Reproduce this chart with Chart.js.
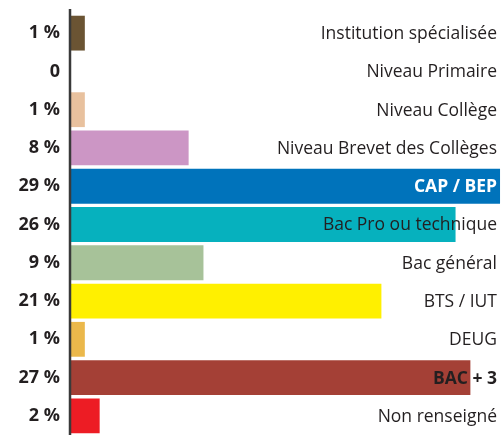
<!DOCTYPE html>
<html>
<head>
<meta charset="utf-8">
<script src="https://cdn.jsdelivr.net/npm/chart.js@4"></script>
<style>
  html, body { margin: 0; padding: 0; background: #fff; overflow: hidden; }
</style>
</head>
<body>
<canvas id="myChart" width="503" height="435"></canvas>
<script>
const labels = [
  'Institution spécialisée',
  'Niveau Primaire',
  'Niveau Collège',
  'Niveau Brevet des Collèges',
  'CAP / BEP',
  'Bac Pro ou technique',
  'Bac général',
  'BTS / IUT',
  'DEUG',
  'BAC + 3',
  'Non renseigné',
];

const values = [1, 0, 1, 8, 29, 26, 9, 21, 1, 27, 2];

const colors = [
  '#6b5433', '#ffffff', '#e8c19e', '#cc96c5', '#0073bb', '#06b1be',
  '#a7c299', '#fff000', '#ebb84b', '#a44036', '#ed1c24',
];

// label styles: highlighted rows are bold, CAP / BEP is white on the blue bar
const boldRows = ['CAP / BEP', 'BAC + 3'];
const whiteRows = ['CAP / BEP'];

const rightLabels = {
  id: 'rightLabels',
  afterDatasetsDraw(chart) {
    const ctx = chart.ctx;
    const yScale = chart.scales.y;
    const area = chart.chartArea;
    ctx.save();
    // vertical axis line, a bit taller than the plot
    ctx.strokeStyle = '#3a3a3a';
    ctx.lineWidth = 2.5;
    ctx.beginPath();
    ctx.moveTo(area.left, area.top - 5);
    ctx.lineTo(area.left, chart.height);
    ctx.stroke();

    ctx.textAlign = 'right';
    ctx.textBaseline = 'middle';
    labels.forEach((lab, i) => {
      const bold = boldRows.includes(lab);
      ctx.font = (bold ? 'bold ' : '') + '17.5px "Open Sans"';
      ctx.fillStyle = whiteRows.includes(lab) ? '#ffffff' : '#231f20';
      ctx.fillText(lab, area.right - 6, yScale.getPixelForValue(i) + 1);
    });
    ctx.restore();
  }
};

const config = {
  type: 'bar',
  data: {
    labels: labels,
    datasets: [{
      data: values,
      backgroundColor: colors,
      borderWidth: 0,
      barPercentage: 1,
      categoryPercentage: 0.91,
    }]
  },
  options: {
    indexAxis: 'y',
    responsive: false,
    animation: false,
    layout: { padding: { top: 14, right: 0, bottom: 0, left: 0 } },
    plugins: {
      legend: { display: false },
      tooltip: { enabled: false },
    },
    scales: {
      x: {
        display: false,
        min: 0,
        max: 29.2,
      },
      y: {
        afterFit(scale) {
          scale.width = 70;
          scale.paddingTop = 0;
          scale.paddingBottom = 0;
        },
        grid: { display: false, drawTicks: false },
        border: { display: false },
        ticks: {
          padding: 10,
          color: '#231f20',
          font: { family: 'Open Sans', size: 18, weight: 'bold' },
          callback: function (v, i) {
            return values[i] === 0 ? '0' : values[i] + ' %';
          }
        }
      }
    }
  },
  plugins: [rightLabels]
};

const myChart = new Chart(document.getElementById('myChart'), config);
</script>
</body>
</html>
